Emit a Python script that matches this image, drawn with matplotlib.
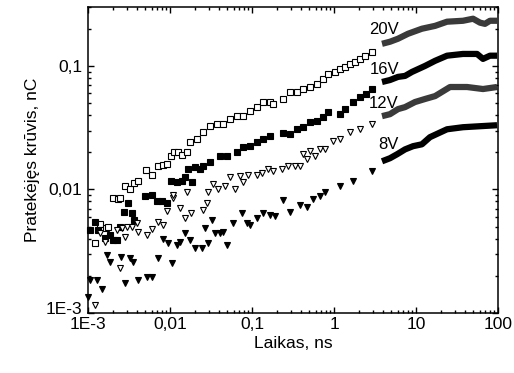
import numpy as np
import matplotlib
matplotlib.use("Agg")
import matplotlib.pyplot as plt
import matplotlib.transforms as mtransforms
from matplotlib.ticker import FixedLocator, FixedFormatter, LogLocator, NullFormatter

plt.rcParams['font.family'] = ['Liberation Sans', 'DejaVu Sans']

# --- scattered part (t < 3 ns) ---
t20 = [0.00122, 0.0014, 0.00166, 0.00175, 0.00202, 0.00232, 0.00246, 0.00283, 0.00325, 0.00364,
       0.00407, 0.0051, 0.006, 0.0071, 0.0082, 0.0092, 0.0103, 0.0112, 0.0125, 0.014,
       0.0161, 0.0175, 0.0212, 0.0253, 0.0307, 0.0373, 0.0443, 0.054, 0.0655, 0.0777,
       0.0946, 0.115, 0.136, 0.166, 0.18, 0.238, 0.29, 0.35, 0.42, 0.51,
       0.62, 0.73, 0.85, 1.03, 1.18, 1.36, 1.57, 1.8, 2.07, 2.39, 2.9]
q20 = [0.00371, 0.0053, 0.0049, 0.005, 0.00845, 0.0083, 0.00845, 0.0106, 0.01, 0.0112,
       0.0116, 0.0143, 0.013, 0.0154, 0.0157, 0.016, 0.0185, 0.02, 0.02, 0.0189,
       0.02, 0.0241, 0.0255, 0.029, 0.0325, 0.0338, 0.0338, 0.0371, 0.0392, 0.0392,
       0.043, 0.0464, 0.051, 0.051, 0.049, 0.054, 0.0615, 0.0615, 0.065, 0.0675,
       0.0714, 0.0784, 0.0861, 0.0894, 0.0946, 0.0982, 0.104, 0.108, 0.114, 0.121, 0.13]

t16 = [0.00106, 0.00122, 0.00132, 0.00161, 0.00185, 0.00202, 0.00226, 0.00246, 0.00275, 0.00307,
       0.00344, 0.00364, 0.00496, 0.006, 0.0069, 0.008, 0.0092, 0.0103, 0.0122, 0.014,
       0.0152, 0.0166, 0.0186, 0.0202, 0.0232, 0.0253, 0.0307, 0.0407, 0.0496, 0.0656,
       0.0777, 0.0946, 0.115, 0.136, 0.166, 0.239, 0.29, 0.354, 0.419, 0.51,
       0.621, 0.735, 0.845, 1.18, 1.36, 1.71, 2.07, 2.46, 2.9]
q16 = [0.00473, 0.0055, 0.00473, 0.00407, 0.0043, 0.00392, 0.00392, 0.005, 0.00662, 0.00784,
       0.0065, 0.0057, 0.00877, 0.0091, 0.008, 0.008, 0.00784, 0.0116, 0.0114, 0.0116,
       0.0125, 0.0146, 0.0114, 0.0151, 0.0146, 0.0154, 0.0166, 0.0185, 0.0185, 0.02,
       0.022, 0.0224, 0.0241, 0.0255, 0.027, 0.0285, 0.028, 0.0307, 0.0319, 0.0351,
       0.0357, 0.0385, 0.0423, 0.0407, 0.0447, 0.051, 0.056, 0.0592, 0.065]

t12 = [0.00122, 0.0014, 0.00161, 0.00226, 0.00246, 0.0026, 0.00283, 0.003, 0.00344, 0.00396,
       0.00407, 0.00524, 0.006, 0.00714, 0.0082, 0.0092, 0.0109, 0.0109, 0.0132, 0.0152,
       0.0161, 0.018, 0.0253, 0.0282, 0.029, 0.0335, 0.0385, 0.0469, 0.054, 0.062,
       0.0714, 0.0777, 0.0894, 0.115, 0.132, 0.156, 0.18, 0.232, 0.275, 0.33,
       0.385, 0.419, 0.47, 0.51, 0.59, 0.67, 0.78, 0.98, 1.18, 1.57, 2.07, 2.9]
q12 = [0.00116, 0.00447, 0.00378, 0.00473, 0.00232, 0.0049, 0.00415, 0.005, 0.005, 0.0054,
       0.00456, 0.0043, 0.00482, 0.0055, 0.0052, 0.00675, 0.00845, 0.0091, 0.00714, 0.00592,
       0.00946, 0.0065, 0.00688, 0.00784, 0.00946, 0.011, 0.01, 0.0106, 0.0125, 0.01,
       0.0128, 0.0114, 0.0132, 0.0132, 0.0137, 0.0146, 0.014, 0.0146, 0.0154, 0.0154,
       0.0154, 0.0193, 0.0175, 0.0204, 0.0185, 0.0211, 0.0211, 0.0246, 0.0255, 0.029, 0.0307, 0.0338]

t8 = [0.00099, 0.00106, 0.00129, 0.00148, 0.0017, 0.00185, 0.00253, 0.00283, 0.00325, 0.00354,
      0.00407, 0.00524, 0.006, 0.00714, 0.0082, 0.0094, 0.0106, 0.0122, 0.0132, 0.0152,
      0.0175, 0.0202, 0.0245, 0.0267, 0.029, 0.0325, 0.0354, 0.0407, 0.0443, 0.0496,
      0.0587, 0.0752, 0.0867, 0.0946, 0.115, 0.136, 0.166, 0.19, 0.239, 0.29,
      0.385, 0.47, 0.55, 0.67, 0.78, 1.18, 1.71, 2.9]
q8 = [0.00135, 0.00185, 0.00185, 0.00157, 0.00296, 0.0026, 0.00285, 0.00175, 0.0028, 0.0026,
      0.00185, 0.00196, 0.00196, 0.0028, 0.004, 0.00371, 0.00255, 0.00357, 0.00378, 0.00447,
      0.00392, 0.00338, 0.00338, 0.0049, 0.00371, 0.0057, 0.00447, 0.00447, 0.00456, 0.00357,
      0.0054, 0.0065, 0.0054, 0.0052, 0.00592, 0.0065, 0.00626, 0.00615, 0.00814, 0.00662,
      0.00755, 0.00727, 0.0083, 0.00877, 0.00946, 0.0106, 0.0116, 0.014]

# --- dense part (t > 3.5 ns) ---
T20 = [3.85, 4.82, 6.03, 7.98, 11.8, 17.1, 23.9, 37.4, 49.6, 60.3, 69.3, 79.8, 97.3]
Q20 = [0.151, 0.157, 0.166, 0.182, 0.2, 0.211, 0.228, 0.232, 0.241, 0.224, 0.219, 0.232, 0.232]
T16 = [3.85, 4.82, 6.03, 7.35, 8.93, 12.9, 17.1, 23.9, 37.4, 55.5, 65.6, 79.8, 97.3]
Q16 = [0.0741, 0.0769, 0.0815, 0.083, 0.0894, 0.1, 0.11, 0.121, 0.125, 0.125, 0.114, 0.121, 0.121]
T12 = [3.85, 4.82, 6.03, 7.35, 9.72, 12.9, 17.1, 26, 41.9, 65.6, 97.3]
Q12 = [0.0392, 0.0407, 0.0447, 0.0464, 0.051, 0.054, 0.057, 0.0675, 0.0675, 0.065, 0.0675]
T8 = [3.85, 4.82, 5.9, 7.35, 9.2, 11.8, 14.8, 23.9, 37.4, 60.3, 97.3]
Q8 = [0.0169, 0.0179, 0.0193, 0.0211, 0.0224, 0.0232, 0.0265, 0.0307, 0.0319, 0.0325, 0.0331]

labels = ['20V', '16V', '12V', '8V']
label_y = [0.196, 0.0927, 0.05, 0.0232]

fig = plt.figure(figsize=(5.14, 3.73), dpi=100)
ax = fig.add_axes([0.1712, 0.1609, 0.7977, 0.8204])

mk = dict(linestyle='none', ms=4.3, mew=0.8, mec='black', clip_on=False)
ax.plot(t20, q20, marker='s', mfc='white', **mk)
ax.plot(t16, q16, marker='s', mfc='black', **mk)
ax.plot(t12, q12, marker='v', mfc='white', **mk)
ax.plot(t8, q8, marker='v', mfc='black', **mk)

ax.plot(T20, Q20, color='#3a3a3a', lw=4.5, solid_capstyle='butt')
ax.plot(T16, Q16, color='black', lw=4.5, solid_capstyle='butt')
ax.plot(T12, Q12, color='#3a3a3a', lw=4.5, solid_capstyle='butt')
ax.plot(T8, Q8, color='black', lw=4.5, solid_capstyle='butt')

for lab, yy in zip(labels, label_y):
    ax.text(6.2, yy, lab, ha='right', va='center', fontsize=12)

ax.set_xscale('log')
ax.set_yscale('log')
ax.set_xlim(1e-3, 100)
ax.set_ylim(1e-3, 0.3)

xt = [1e-3, 1e-2, 1e-1, 1, 10, 100]
xl = ['1E-3', '0,01', '0,1', '1', '10', '100']
yt = [1e-3, 1e-2, 1e-1]
yl = ['1E-3', '0,01', '0,1']
ax.xaxis.set_major_locator(FixedLocator(xt))
ax.xaxis.set_major_formatter(FixedFormatter(xl))
ax.yaxis.set_major_locator(FixedLocator(yt))
ax.yaxis.set_major_formatter(FixedFormatter(yl))
for a in (ax.xaxis, ax.yaxis):
    a.set_minor_locator(LogLocator(base=10, subs=np.arange(2, 10), numticks=20))
    a.set_minor_formatter(NullFormatter())

ax.tick_params(which='both', direction='in', top=True, right=True, width=1.0, labelsize=12.5)
ax.tick_params(which='major', length=4.5)
ax.tick_params(which='minor', length=2.5)
ax.tick_params(axis='x', pad=3)
ax.tick_params(axis='y', pad=4)
for sp in ax.spines.values():
    sp.set_linewidth(1.1)

# nudge the bottom y label up so it clears the x "1E-3"
fig.canvas.draw()
ylab0 = ax.yaxis.get_majorticklabels()[0]
ylab0.set_transform(ylab0.get_transform() + mtransforms.ScaledTranslation(0, 5 / 100, fig.dpi_scale_trans))

ax.set_xlabel('Laikas, ns', fontsize=12.5, labelpad=3)
ax.set_ylabel('Pratekėjęs krūvis, nC', fontsize=12.5, labelpad=4)

fig.savefig('out.png', dpi=100)
